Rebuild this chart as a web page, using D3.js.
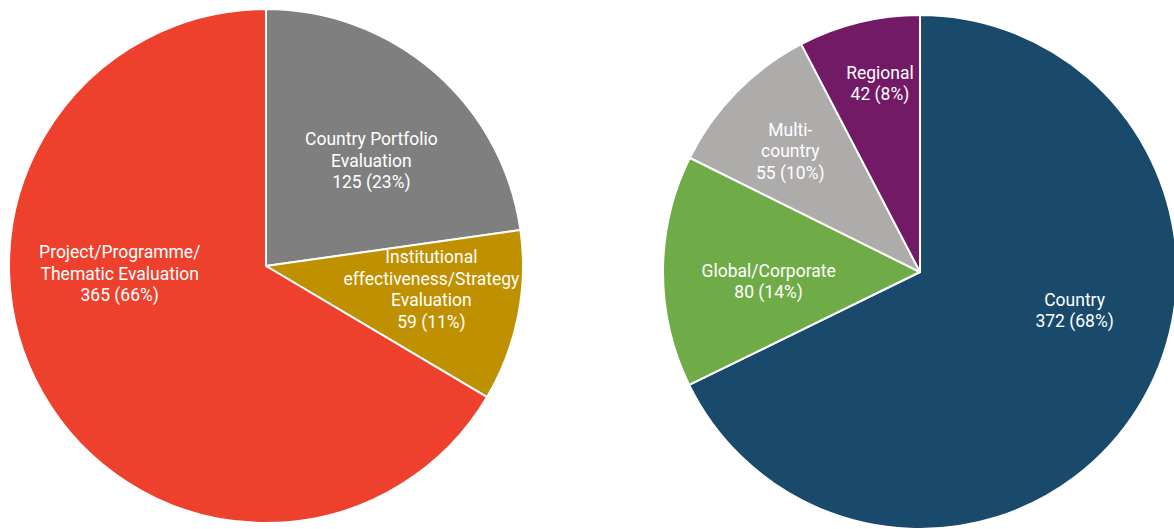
<!DOCTYPE html>
<html>
<head>
<meta charset="utf-8">
<script src="https://cdn.jsdelivr.net/npm/d3@7"></script>
<style>
    html, body { margin: 0; padding: 0; background: #fff; overflow: hidden; }
    svg { display: block; }
    .label { font-family: Roboto, "Noto Sans", sans-serif; font-size: 17.5px; font-weight: 400; fill: #fff; }
</style>
</head>
<body>
<svg id="chart" width="1174" height="529"></svg>
<script>
// Left pie: evaluation type
var typeNames = [
    ['Country Portfolio', 'Evaluation'],
    ['Institutional', 'effectiveness/Strategy', 'Evaluation'],
    ['Project/Programme/', 'Thematic Evaluation']
];
var typeValues = [125, 59, 365];
var typePercents = [23, 11, 66];
var typeColors = ['#7f7f7f', '#bf9000', '#ee412d'];

// Right pie: geographic scope
var scopeNames = [
    ['Country'],
    ['Global/Corporate'],
    ['Multi-', 'country'],
    ['Regional']
];
var scopeValues = [372, 80, 55, 42];
var scopePercents = [68, 14, 10, 8];
var scopeColors = ['#1a4a6b', '#6fac47', '#aeabab', '#731a66'];

// Label placement (angle in degrees from 12 o'clock, fraction of radius)
var typeLabelPos = [[45, 0.58], [98, 0.65], [267, 0.57]];
var scopeLabelPos = [[104, 0.62], [266.5, 0.59], [313, 0.69], [348, 0.75]];

var svg = d3.select('#chart');
var radius = 257;
var lineHeight = 21.5;

function drawPie(cx, cy, names, values, percents, colors, labelPos) {
    var g = svg.append('g').attr('transform', 'translate(' + cx + ',' + cy + ')');

    var pie = d3.pie().sort(null).value((d) => d)(values);
    var arc = d3.arc().innerRadius(0).outerRadius(radius);

    g.selectAll('path').data(pie).enter().append('path')
        .attr('d', arc)
        .attr('fill', (d, i) => colors[i])
        .attr('stroke', '#fff')
        .attr('stroke-width', 2)
        .attr('stroke-linejoin', 'round');

    // Labels
    pie.forEach(function(d, i) {
        var a = labelPos[i][0] * Math.PI / 180;
        var r = labelPos[i][1] * radius;
        var x = r * Math.sin(a);
        var y = -r * Math.cos(a);
        var lines = names[i].concat([values[i] + ' (' + percents[i] + '%)']);
        var text = g.append('text').classed('label', true)
            .attr('text-anchor', 'middle')
            .attr('transform', 'translate(' + x + ',' + y + ')');
        var y0 = -(lines.length - 1) * lineHeight / 2;
        lines.forEach(function(l, j) {
            text.append('tspan')
                .attr('x', 0)
                .attr('y', y0 + j * lineHeight)
                .attr('dy', '0.35em')
                .text(l);
        });
    });
}

drawPie(266, 266, typeNames, typeValues, typePercents, typeColors, typeLabelPos);
drawPie(920, 272, scopeNames, scopeValues, scopePercents, scopeColors, scopeLabelPos);
</script>
</body>
</html>
